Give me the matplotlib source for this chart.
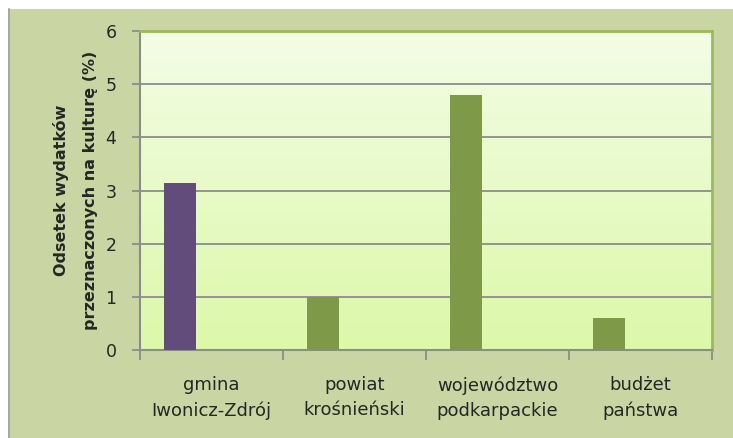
import numpy as np
import matplotlib
matplotlib.use("Agg")
import matplotlib.pyplot as plt
from matplotlib.colors import LinearSegmentedColormap
from matplotlib.patches import Rectangle

categories = ["gmina\nIwonicz-Zdrój", "powiat\nkrośnieński",
              "województwo\npodkarpackie", "budżet\npaństwa"]
values = [3.15, 1.0, 4.8, 0.6]
bar_colors = ["#624c7c", "#7e9a48", "#7e9a48", "#7e9a48"]
y_ticks = [0, 1, 2, 3, 4, 5, 6]
y_title = "Odsetek wydatków\nprzeznaczonych na kulturę (%)"

plt.rcParams["font.family"] = ["DejaVu Sans"]

W, H = 733, 438
fig = plt.figure(figsize=(W / 100, H / 100), dpi=100)
fig.patch.set_facecolor("white")

# outer chart area with white strip on top and gray line on left
fig.patches.append(Rectangle((8 / W, 0), 1, 1 - 9 / H, transform=fig.transFigure,
                             facecolor="#c9d6a3", edgecolor="none", zorder=-10))
fig.lines.append(plt.Line2D([8.5 / W, 8.5 / W], [0, 1 - 9 / H], transform=fig.transFigure,
                            color="#a0a0a0", linewidth=1.2, zorder=-9))

left, right, top, bottom = 140 / W, 712 / W, 1 - 31 / H, 1 - 350 / H
ax = fig.add_axes([left, bottom, right - left, top - bottom])
ax.set_zorder(1)

# gradient plot background
cmap = LinearSegmentedColormap.from_list("bg", ["#dcf8a8", "#f3fde6"])
grad = np.linspace(0, 1, 256).reshape(-1, 1)
ax.imshow(grad, cmap=cmap, aspect="auto", origin="lower",
          extent=[0, 1, 0, 1], transform=ax.transAxes, zorder=0)

x = np.arange(len(categories))
ax.bar(x - 0.22, values, width=0.22, color=bar_colors, zorder=3)

ax.set_xlim(-0.5, len(categories) - 0.5)
ax.set_ylim(0, 6)
ax.set_yticks(y_ticks)
ax.set_yticklabels([str(t) for t in y_ticks], fontsize=12.5, color="#262626")
ax.yaxis.grid(True, color="#8c8c8c", linewidth=1.3, zorder=1)
ax.set_axisbelow(True)

ax.set_xticks(np.arange(len(categories) + 1) - 0.5, minor=False)
ax.set_xticklabels([])
ax.set_xticks(x, minor=True)
ax.set_xticklabels(categories, minor=True, fontsize=13, color="#262626",
                   linespacing=1.5)
ax.tick_params(axis="x", which="major", length=7, width=1.3, color="#8c8c8c",
               direction="out")
ax.tick_params(axis="x", which="minor", length=0, pad=19)
ax.tick_params(axis="y", length=6, width=1.3, color="#8c8c8c", pad=11)

for side in ["top", "right"]:
    ax.spines[side].set_color("#9bbb59")
    ax.spines[side].set_linewidth(2)
for side in ["left", "bottom"]:
    ax.spines[side].set_color("#8c8c8c")
    ax.spines[side].set_linewidth(1.5)

ax.set_ylabel(y_title, fontsize=11.5, fontweight="bold", color="#262626",
              linespacing=2.2)
ax.yaxis.set_label_coords(-0.073, 0.5)

fig.savefig("out.png", dpi=100)
